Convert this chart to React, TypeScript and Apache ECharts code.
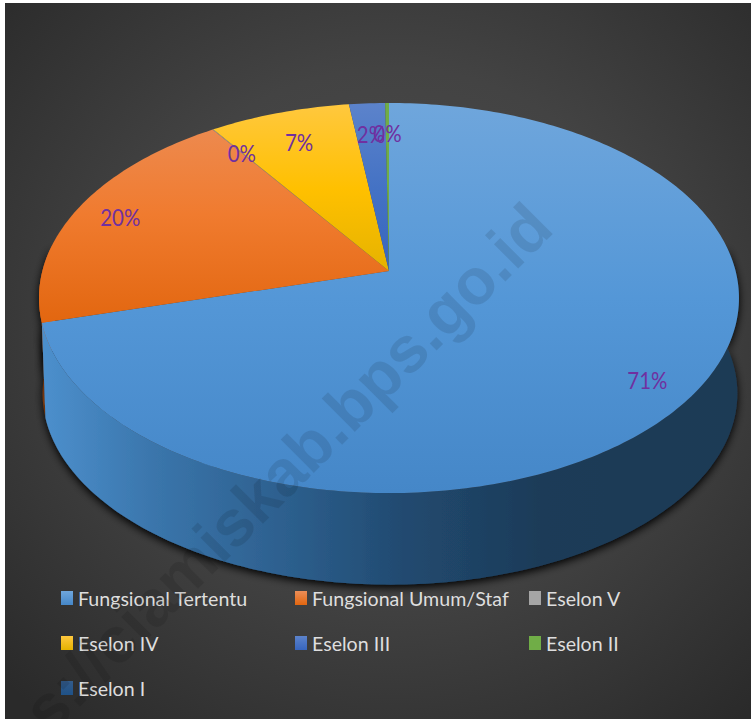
import React, { useEffect, useRef } from "react";
import * as echarts from "echarts";

const categories = ["Fungsional Tertentu", "Fungsional Umum/Staf", "Eselon V", "Eselon IV", "Eselon III", "Eselon II", "Eselon I"];
const shares = [70.8, 19.6, 0.04, 7.46, 1.9, 0.2, 0];
const topColors = [
  ["#6FA6DC", "#5497D7", "#4587C8"],
  ["#EC8E58", "#F07B2F", "#E2660F"],
  ["#A5A5A5", "#A5A5A5", "#A5A5A5"],
  ["#FFC83F", "#FFC000", "#E4B200"],
  ["#5C83CB", "#4472C4", "#3765BE"],
  ["#70AD47", "#70AD47", "#70AD47"],
  ["#335B89", "#255E91", "#1F5288"],
];
const gradientEnds = [493, 325, 275, 275, 275, 275, 275];
const wallColors = [
  ["#4C8FCC", "#3A75AB", "#2C5E8C", "#214A70", "#1D3B58", "#1C3A55"],
  ["#C85A12", "#C85A12", "#C85A12", "#C85A12", "#C85A12", "#C85A12"],
];
const labelRadii = [0.87, 0.86, 0.82, 0.8, 0.8, 0.8, 0.8];
const columns = [[0, 3, 6], [1, 4], [2, 5]];
const columnLeft = [61, 295, 529];
const watermark = "s://ciamiskab.bps.go.id";

const K = 0.1385;
const TOP = { cx: 389, b: 346.6, a: 191.3, cy: 271 };
const BOTTOM = { cx: 390, b: 344, a: 187.5, cy: 367 };
const FONT = "Lato";

const project = (plane: typeof TOP, deg: number, r = 1): number[] => {
  const t = (deg * Math.PI) / 180;
  const u = Math.sin(t) * r;
  const v = -Math.cos(t) * r;
  const w = 1 - K * v;
  return [plane.cx + (plane.b * u) / w, plane.cy + (plane.a * v) / w];
};
const arc = (plane: typeof TOP, from: number, to: number): number[][] => {
  const pts: number[][] = [];
  const n = Math.max(1, Math.ceil(to - from));
  for (let i = 0; i <= n; i++) pts.push(project(plane, from + ((to - from) * i) / n));
  return pts;
};
const vGrad = (stops: string[], y2: number) => ({
  type: "linear", global: true, x: 0, y: 103, x2: 0, y2,
  colorStops: stops.map((color, i) => ({ offset: i / (stops.length - 1), color })),
});
const hGrad = (stops: string[]) => ({
  type: "linear", global: true, x: 45, y: 0, x2: 735, y2: 0,
  colorStops: stops.map((color, i) => ({ offset: [0, 0.16, 0.36, 0.52, 0.72, 1][i], color })),
});

export default function App() {
  const ref = useRef<HTMLDivElement>(null);
  useEffect(() => {
    document.body.style.margin = "0";
    const chart = echarts.init(ref.current!, undefined, { renderer: "svg" });
    const total = shares.reduce((a, b) => a + b, 0);
    let acc = 0;
    const series = categories.map((name, i) => {
      const from = (acc / total) * 360;
      acc += shares[i];
      const to = (acc / total) * 360;
      return {
        type: "custom",
        name,
        coordinateSystem: "none",
        silent: true,
        itemStyle: { color: topColors[i][1] },
        data: [[shares[i]]],
        renderItem: (_p: any, api: any) => {
          const value = api.value(0);
          if (!value) return { type: "group", children: [] };
          const children: any[] = [];
          const wFrom = Math.max(from, 82), wTo = Math.min(to, 278);
          if (wTo > wFrom && i < 2) {
            children.push({
              type: "polygon",
              z2: i === 0 ? 2 : 1,
              shape: { points: [...arc(TOP, wFrom, wTo), ...arc(BOTTOM, wFrom, wTo).reverse()] },
              style: {
                fill: hGrad(wallColors[i]),
                shadowColor: "rgba(0,0,0,1)", shadowBlur: 9, shadowOffsetX: 0, shadowOffsetY: 3,
              },
            });
          }
          children.push({
            type: "polygon",
            z2: 10,
            shape: { points: [[TOP.cx, TOP.cy], ...arc(TOP, from, to)] },
            style: { fill: vGrad(topColors[i], gradientEnds[i]) },
          });
          const [lx, ly] = project(TOP, (from + to) / 2, labelRadii[i]);
          children.push({
            type: "text",
            z2: 20,
            x: lx,
            y: ly,
            scaleX: 0.87,
            style: {
              text: `${Math.round((value / total) * 100)}%`,
              fill: "#7030A0",
              font: `23.5px ${FONT}`,
              align: "center",
              verticalAlign: "middle",
            },
          });
          return { type: "group", children };
        },
      };
    });
    chart.setOption({
      animation: false,
      backgroundColor: "#ffffff",
      legend: columns.map((col, c) => ({
        orient: "vertical",
        left: columnLeft[c],
        top: 586,
        padding: 0,
        itemWidth: 12,
        itemHeight: 14,
        itemGap: 21,
        icon: "rect",
        selectedMode: false,
        textStyle: { color: "#DEDEDE", fontFamily: FONT, fontSize: 19.6, lineHeight: 24 },
        data: col.map((k) => ({
          name: categories[k],
          itemStyle: {
            color: {
              type: "linear", x: 0, y: 0, x2: 0, y2: 1,
              colorStops: [
                { offset: 0, color: topColors[k][0] },
                { offset: 1, color: topColors[k][2] },
              ],
            },
          },
        })),
      })),
      graphic: [
        {
          type: "rect",
          z: -10,
          silent: true,
          shape: { x: 5, y: 3, width: 746, height: 716 },
          style: {
            fill: {
              type: "radial", x: 0.52, y: 0.45, r: 0.72,
              colorStops: [
                { offset: 0, color: "#4E4E4E" },
                { offset: 0.5, color: "#434343" },
                { offset: 1, color: "#2A2A2A" },
              ],
            },
          },
        },
        {
          type: "text",
          z: 50,
          silent: true,
          x: 517,
          y: 192,
          rotation: Math.PI / 4,
          style: {
            text: watermark,
            font: "bold 65px 'Liberation Sans'",
            fill: "rgba(0,0,0,0.1)",
            align: "right",
            verticalAlign: "alphabetic",
          },
        },
      ],
      series,
    });
    return () => chart.dispose();
  }, []);
  return <div ref={ref} style={{ width: 751, height: 719 }} />;
}
